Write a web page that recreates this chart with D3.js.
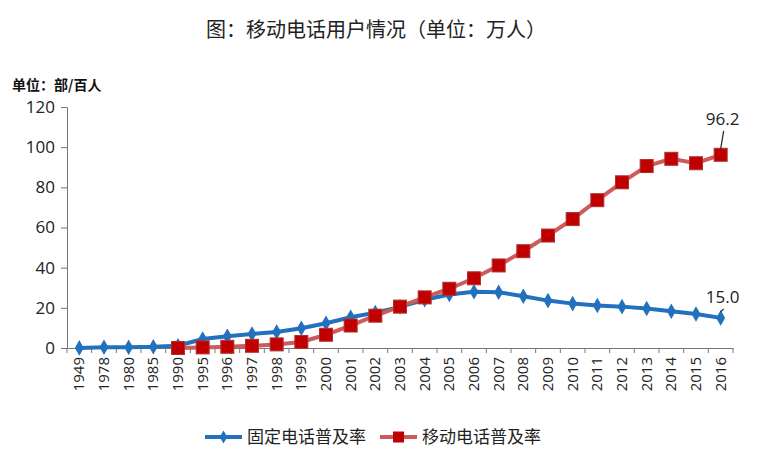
<!DOCTYPE html>
<html>
<head>
<meta charset="utf-8">
<script src="https://cdn.jsdelivr.net/npm/d3@7"></script>
<style>
  body { margin: 0; background: #fff; }
  text { font-family: "Noto Sans CJK SC", "DejaVu Sans", sans-serif; }
</style>
</head>
<body>
<div class="chart"></div>
<script>
const w = 762;
const h = 471;

const years = ["1949","1978","1980","1985","1990","1995","1996","1997","1998","1999","2000","2001","2002","2003","2004","2005","2006","2007","2008","2009","2010","2011","2012","2013","2014","2015","2016"];
// fixed line penetration
const fixedRate = [0.05,0.4,0.4,0.6,1.1,4.5,5.8,7.0,8.0,9.8,12.3,15.3,17.6,20.5,24.0,26.6,28.0,27.8,25.8,23.6,22.1,21.2,20.6,19.7,18.3,16.9,15.0];
// mobile penetration (starts 1990)
const mobileRate = [null,null,null,null,0.0,0.3,0.6,1.1,1.8,3.0,6.6,11.2,16.1,20.6,25.2,29.5,34.7,41.1,48.2,56.0,64.2,73.6,82.5,90.6,94.2,92.0,96.2];

const yTicks = [0,20,40,60,80,100,120];

const svg = d3.select(".chart")
  .append("svg")
  .attr("width", w)
  .attr("height", h);

const x = d3.scaleBand()
  .domain(years)
  .range([67, 733]);

const y = d3.scaleLinear()
  .domain([0, 120])
  .range([348, 107]);

// title
svg.append("text")
  .attr("x", 376)
  .attr("y", 37)
  .attr("text-anchor", "middle")
  .attr("font-size", 20)
  .attr("fill", "#222")
  .text("图：移动电话用户情况（单位：万人）");

svg.append("text")
  .attr("x", 12)
  .attr("y", 90)
  .attr("font-size", 14)
  .attr("font-weight", "bold")
  .attr("fill", "#111")
  .text("单位：部/百人");

// y axis
const yAxis = svg.append("g")
  .attr("transform", "translate(67,0)")
  .call(d3.axisLeft(y).tickValues(yTicks).tickSize(6).tickPadding(6));
yAxis.selectAll("text")
  .attr("font-size", 17)
  .attr("fill", "#222")
  .style("font-family", "'Open Sans', 'DejaVu Sans', sans-serif");

// x axis
const xAxis = svg.append("g")
  .attr("transform", "translate(0,348)")
  .call(d3.axisBottom(x).tickSize(0).tickFormat(""));
xAxis.selectAll(".tick").remove();
const bounds = years.map(d => x(d)).concat([x.range()[1]]);
xAxis.selectAll("line.bt")
  .data(bounds)
  .enter().append("line")
  .attr("class", "bt")
  .attr("x1", d => d).attr("x2", d => d)
  .attr("y1", 0).attr("y2", 5)
  .attr("stroke", "#777");
svg.selectAll(".domain").attr("stroke", "#777");
svg.selectAll(".tick line").attr("stroke", "#777");

svg.append("g")
  .selectAll("text")
  .data(years)
  .enter().append("text")
  .attr("transform", d => `translate(${x(d) + x.bandwidth() / 2 + 5},357) rotate(-90)`)
  .attr("text-anchor", "end")
  .attr("font-size", 15)
  .attr("fill", "#222")
  .style("font-family", "'Open Sans', 'DejaVu Sans', sans-serif")
  .text(d => d);

const cx = d => x(d) + x.bandwidth() / 2;

const fixedData = years.map((d, i) => ({ year: d, v: fixedRate[i] }));
const mobileData = years.map((d, i) => ({ year: d, v: mobileRate[i] })).filter(d => d.v !== null);

const line = d3.line()
  .x(d => cx(d.year))
  .y(d => y(d.v));

const blue = "#2271BE";
const redLine = "#CD5B5B";
const redMark = "#C00000";

svg.append("path")
  .datum(fixedData)
  .attr("d", line)
  .attr("fill", "none")
  .attr("stroke", blue)
  .attr("stroke-width", 4);

svg.selectAll(".fixed")
  .data(fixedData)
  .enter().append("path")
  .attr("class", "fixed")
  .attr("transform", d => `translate(${cx(d.year)},${y(d.v)})`)
  .attr("d", d3.symbol(d3.symbolDiamond, 70)())
  .attr("fill", blue);

svg.append("path")
  .datum(mobileData)
  .attr("d", line)
  .attr("fill", "none")
  .attr("stroke", redLine)
  .attr("stroke-width", 4);

svg.selectAll(".mobile")
  .data(mobileData)
  .enter().append("rect")
  .attr("class", "mobile")
  .attr("x", d => cx(d.year) - 6.5)
  .attr("y", d => y(d.v) - 6.5)
  .attr("width", 13)
  .attr("height", 13)
  .attr("fill", redMark)
  .attr("stroke", "#B03030")
  .attr("stroke-width", 1);

// end labels
const lastYear = years[years.length - 1];
const endLabels = [
  { v: mobileRate[mobileRate.length - 1], off: 40 },
  { v: fixedRate[fixedRate.length - 1], off: 25 }
];
endLabels.forEach(l => {
  svg.append("line")
    .attr("x1", cx(lastYear) + 3).attr("y1", y(l.v) - l.off + 16)
    .attr("x2", cx(lastYear)).attr("y2", y(l.v) - 6)
    .attr("stroke", "#222").attr("stroke-width", 1.2);
  svg.append("text")
    .attr("x", cx(lastYear) + 2)
    .attr("y", y(l.v) - l.off + 10)
    .attr("text-anchor", "middle")
    .attr("font-size", 17)
    .attr("fill", "#222")
    .style("font-family", "'Open Sans', 'DejaVu Sans', sans-serif")
    .text(l.v.toFixed(1));
});

// legend
const legend = [
  { name: "固定电话普及率", color: blue, x: 205, type: "diamond" },
  { name: "移动电话普及率", color: redLine, x: 380, type: "square" }
];
legend.forEach(l => {
  const g = svg.append("g").attr("transform", `translate(${l.x},437)`);
  g.append("line").attr("x1", 0).attr("x2", 37).attr("stroke", l.color).attr("stroke-width", 4);
  if (l.type === "diamond") {
    g.append("path").attr("transform", "translate(18.5,0)")
      .attr("d", d3.symbol(d3.symbolDiamond, 50)()).attr("fill", blue);
  } else {
    g.append("rect").attr("x", 13).attr("y", -5.5).attr("width", 11).attr("height", 11)
      .attr("fill", redMark);
  }
  g.append("text").attr("x", 42).attr("y", 6).attr("font-size", 17).attr("fill", "#222").text(l.name);
});
</script>
</body>
</html>
